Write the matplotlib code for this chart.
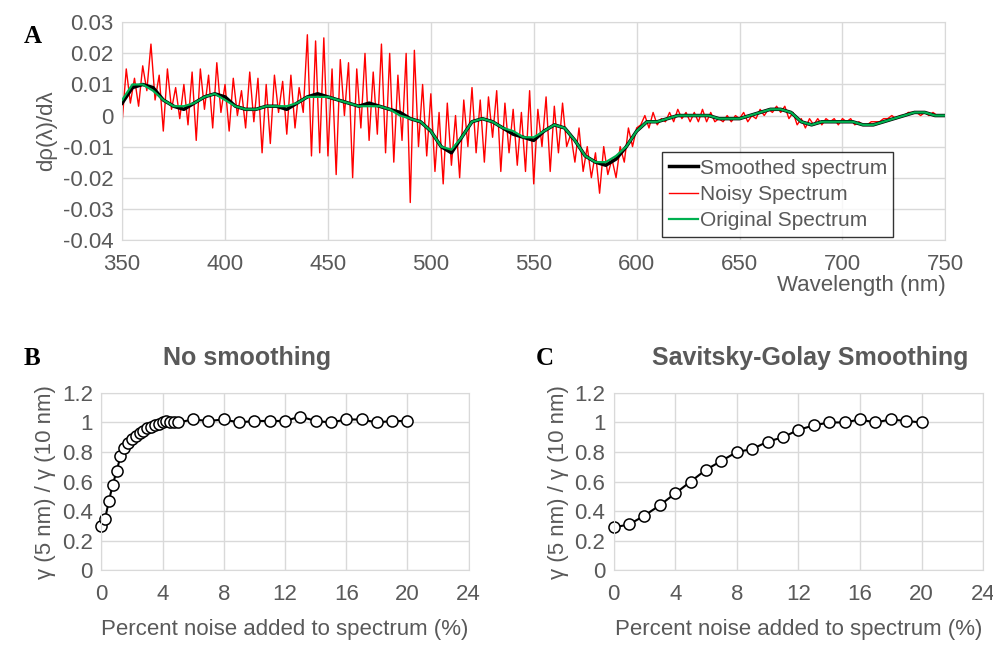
import numpy as np
import matplotlib
matplotlib.use("Agg")
import matplotlib.pyplot as plt

plt.rcParams['font.family'] = ['Liberation Sans', 'DejaVu Sans']
GRAY = '#595959'
GRID = '#d9d9d9'

# ---- panel A data ----
wl5 = np.arange(350, 751, 5)
original = [0.005, 0.010, 0.010, 0.008, 0.005, 0.003, 0.003, 0.004, 0.006, 0.007,
            0.005, 0.003, 0.002, 0.002, 0.003, 0.003, 0.003, 0.004, 0.006, 0.006,
            0.006, 0.005, 0.004, 0.003, 0.003, 0.003, 0.002, 0.000, -0.001, -0.002,
            -0.005, -0.010, -0.011, -0.007, -0.002, -0.001, -0.002, -0.004, -0.005, -0.007,
            -0.007, -0.005, -0.003, -0.004, -0.008, -0.013, -0.015, -0.015, -0.013, -0.010,
            -0.005, -0.002, -0.002, -0.001, 0.000, 0.000, 0.000, 0.000, -0.001, -0.001,
            -0.001, 0.000, 0.001, 0.002, 0.002, 0.001, -0.002, -0.003, -0.002, -0.002,
            -0.002, -0.002, -0.003, -0.003, -0.002, -0.001, 0.000, 0.001, 0.001, 0.000, 0.000]
smoothed = [0.004, 0.009, 0.010, 0.009, 0.005, 0.003, 0.002, 0.004, 0.006, 0.007,
            0.006, 0.003, 0.002, 0.002, 0.003, 0.003, 0.002, 0.004, 0.006, 0.007,
            0.006, 0.005, 0.004, 0.003, 0.004, 0.003, 0.002, 0.001, -0.001, -0.002,
            -0.005, -0.010, -0.012, -0.007, -0.002, -0.001, -0.002, -0.004, -0.006, -0.007,
            -0.008, -0.005, -0.003, -0.004, -0.008, -0.013, -0.015, -0.016, -0.014, -0.010,
            -0.005, -0.002, -0.002, -0.001, 0.000, 0.000, 0.000, 0.000, -0.001, -0.001,
            -0.001, 0.000, 0.001, 0.002, 0.002, 0.001, -0.002, -0.003, -0.002, -0.002,
            -0.002, -0.002, -0.003, -0.003, -0.002, -0.001, 0.000, 0.001, 0.001, 0.000, 0.000]
wl2 = np.arange(350, 751, 2)
noisy = [-0.002, 0.015, 0.004, 0.012, 0.003, 0.016, 0.008, 0.023, 0.005, 0.013,
         -0.005, 0.015, 0.002, 0.009, -0.001, 0.010, -0.003, 0.014, -0.008, 0.015,
         0.002, 0.013, -0.004, 0.017, 0.001, 0.010, -0.005, 0.012, 0.000, 0.008,
         -0.004, 0.014, -0.002, 0.012, -0.012, 0.010, -0.009, 0.013, 0.001, 0.011,
         -0.006, 0.013, -0.004, 0.009, 0.001, 0.026, -0.013, 0.024, -0.012, 0.025,
         -0.013, 0.015, -0.019, 0.018, 0.000, 0.017, -0.020, 0.015, -0.004, 0.020,
         -0.008, 0.014, -0.006, 0.023, -0.012, 0.020, -0.015, 0.013, -0.008, 0.020,
         -0.028, 0.021, -0.010, 0.010, -0.013, 0.007, -0.018, 0.001, -0.022, 0.004,
         -0.016, 0.000, -0.020, 0.005, -0.010, 0.009, -0.012, 0.005, -0.015, 0.006,
         -0.007, 0.008, -0.018, 0.004, -0.012, 0.002, -0.016, 0.001, -0.018, 0.008,
         -0.022, 0.002, -0.010, 0.006, -0.018, 0.003, -0.012, 0.004, -0.010, -0.006,
         -0.015, -0.004, -0.018, -0.010, -0.020, -0.012, -0.025, -0.010, -0.019, -0.014,
         -0.020, -0.010, -0.015, -0.004, -0.010, -0.004, -0.003, 0.000, -0.004, 0.001,
         -0.003, -0.001, -0.002, 0.001, -0.002, 0.002, -0.001, 0.001, -0.002, 0.001,
         -0.002, 0.002, -0.002, 0.001, -0.002, -0.001, -0.002, 0.000, -0.002, 0.000,
         -0.001, 0.001, -0.002, 0.000, -0.001, 0.002, 0.000, 0.002, 0.001, 0.003,
         0.001, 0.003, -0.001, 0.001, -0.003, -0.001, -0.004, -0.001, -0.003, -0.001,
         -0.003, -0.001, -0.002, -0.001, -0.003, -0.001, -0.002, -0.001, -0.003, -0.002,
         -0.003, -0.003, -0.002, -0.002, -0.002, -0.001, -0.001, 0.000, -0.001, 0.000,
         0.000, 0.001, 0.001, 0.001, 0.000, 0.001, 0.000, 0.001, 0.000, 0.000, 0.000]

# ---- panels B, C data ----
noise_b = [0, 0.25, 0.5, 0.75, 1, 1.25, 1.5, 1.75, 2, 2.25, 2.5, 2.75, 3, 3.25, 3.5,
           3.75, 4, 4.25, 4.5, 4.75, 5, 6, 7, 8, 9, 10, 11, 12, 13, 14, 15, 16, 17, 18, 19, 20]
ratio_b = [0.30, 0.35, 0.47, 0.58, 0.67, 0.77, 0.83, 0.86, 0.89, 0.91, 0.93, 0.94, 0.96, 0.97,
           0.98, 0.99, 1.00, 1.01, 1.00, 1.00, 1.00, 1.02, 1.01, 1.02, 1.00, 1.01, 1.01, 1.01,
           1.04, 1.01, 1.00, 1.02, 1.02, 1.00, 1.01, 1.01]
noise_c = list(range(0, 21))
ratio_c = [0.29, 0.31, 0.37, 0.44, 0.52, 0.60, 0.68, 0.74, 0.80, 0.82, 0.87, 0.90, 0.95,
           0.98, 1.00, 1.00, 1.02, 1.00, 1.02, 1.01, 1.00]

fig = plt.figure(figsize=(9.93, 6.57), dpi=100)

def style(ax):
    ax.grid(True, color=GRID, lw=1)
    ax.set_axisbelow(True)
    for s in ax.spines.values():
        s.set_color(GRID)
    ax.tick_params(colors=GRAY, labelsize=16, length=0)

axA = fig.add_axes([0.123, 0.635, 0.829, 0.331])
axA.plot(wl2, noisy, color='#ff0000', lw=1, label='Noisy Spectrum', zorder=2)
axA.plot(wl5, smoothed, color='black', lw=2.5, label='Smoothed spectrum', zorder=3)
axA.plot(wl5, original, color='#00b050', lw=1.6, label='Original Spectrum', zorder=4)
axA.set_xlim(350, 750)
axA.set_ylim(-0.04, 0.03)
axA.set_xticks(range(350, 751, 50))
axA.set_yticks(np.arange(-0.04, 0.031, 0.01))
axA.set_yticklabels(['-0.04', '-0.03', '-0.02', '-0.01', '0', '0.01', '0.02', '0.03'])
style(axA)
axA.tick_params(axis='x', pad=10)
axA.tick_params(axis='y', pad=6)
axA.set_ylabel('dρ(λ)/dλ', color=GRAY, fontsize=16, labelpad=4)
axA.set_xlabel('Wavelength (nm)', color=GRAY, fontsize=16, loc='right', labelpad=0)
h, l = axA.get_legend_handles_labels()
order = [1, 0, 2]
leg = axA.legend([h[i] for i in order], [l[i] for i in order], loc='lower right',
                 bbox_to_anchor=(0.937, 0.015), fontsize=15, frameon=True, fancybox=False,
                 handlelength=1.4, handletextpad=0.1, borderpad=0.3, labelspacing=0.35,
                 borderaxespad=0.0)
leg.get_frame().set_edgecolor('black')
for t in leg.get_texts():
    t.set_color(GRAY)
fig.text(0.024, 0.935, 'A', fontsize=18, fontweight='bold', family='Liberation Serif')

def small(rect, x, y, title, tx, letter, lx):
    ax = fig.add_axes(rect)
    ax.plot(x, y, color='black', lw=1.5, marker='o', ms=8, mfc='white', mec='black',
            mew=1.1, clip_on=False)
    ax.set_xlim(0, 24)
    ax.set_ylim(0, 1.2)
    ax.set_xticks(range(0, 25, 4))
    ax.set_yticks(np.arange(0, 1.21, 0.2))
    ax.set_yticklabels(['0', '0.2', '0.4', '0.6', '0.8', '1', '1.2'])
    style(ax)
    ax.tick_params(axis='x', pad=10)
    ax.tick_params(axis='y', pad=6)
    fig.text(tx, 0.455, title, color=GRAY, fontsize=18, fontweight='bold',
             ha='center', va='center')
    ax.set_xlabel('Percent noise added to spectrum (%)', color=GRAY, fontsize=16, labelpad=10)
    ax.set_ylabel('γ (5 nm) / γ (10 nm)', color=GRAY, fontsize=16, labelpad=4)
    fig.text(lx, 0.445, letter, fontsize=18, fontweight='bold', family='Liberation Serif')

small([0.102, 0.132, 0.370, 0.270], noise_b, ratio_b, 'No smoothing', 0.249, 'B', 0.024)
small([0.618, 0.132, 0.372, 0.270], noise_c, ratio_c, 'Savitsky-Golay Smoothing', 0.816, 'C', 0.54)

fig.savefig('out.png', dpi=100)
